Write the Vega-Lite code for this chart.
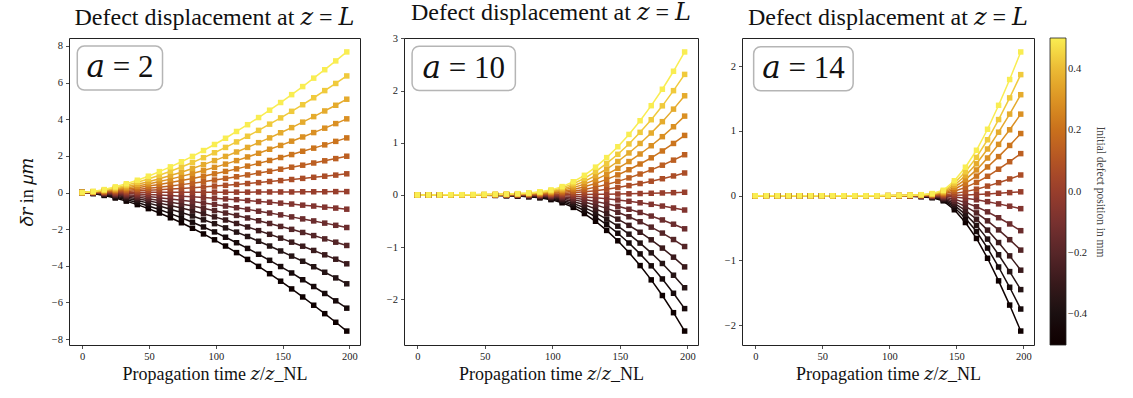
{
"$schema": "https://vega.github.io/schema/vega-lite/v6.json",
"background": "white",
"padding": {"left": 17, "top": 0, "right": 2, "bottom": 2},
"datasets": {
"p1": [
{"r":-0.5,"z":0,"d":0},{"r":-0.5,"z":8.25,"d":-0.06},{"r":-0.5,"z":16.5,"d":-0.16},{"r":-0.5,"z":24.75,"d":-0.3},{"r":-0.5,"z":33,"d":-0.47},{"r":-0.5,"z":41.25,"d":-0.66},{"r":-0.5,"z":49.5,"d":-0.88},{"r":-0.5,"z":57.75,"d":-1.12},{"r":-0.5,"z":66,"d":-1.38},{"r":-0.5,"z":74.25,"d":-1.65},{"r":-0.5,"z":82.5,"d":-1.95},{"r":-0.5,"z":90.75,"d":-2.26},{"r":-0.5,"z":99,"d":-2.58},{"r":-0.5,"z":107.25,"d":-2.92},{"r":-0.5,"z":115.5,"d":-3.28},{"r":-0.5,"z":123.75,"d":-3.65},{"r":-0.5,"z":132,"d":-4.03},{"r":-0.5,"z":140.25,"d":-4.43},{"r":-0.5,"z":148.5,"d":-4.84},{"r":-0.5,"z":156.75,"d":-5.26},{"r":-0.5,"z":165,"d":-5.7},{"r":-0.5,"z":173.25,"d":-6.15},{"r":-0.5,"z":181.5,"d":-6.61},{"r":-0.5,"z":189.75,"d":-7.08},{"r":-0.5,"z":198,"d":-7.56},
{"r":-0.43,"z":0,"d":0},{"r":-0.43,"z":8.25,"d":-0.05},{"r":-0.43,"z":16.5,"d":-0.13},{"r":-0.43,"z":24.75,"d":-0.25},{"r":-0.43,"z":33,"d":-0.39},{"r":-0.43,"z":41.25,"d":-0.55},{"r":-0.43,"z":49.5,"d":-0.74},{"r":-0.43,"z":57.75,"d":-0.93},{"r":-0.43,"z":66,"d":-1.15},{"r":-0.43,"z":74.25,"d":-1.38},{"r":-0.43,"z":82.5,"d":-1.62},{"r":-0.43,"z":90.75,"d":-1.88},{"r":-0.43,"z":99,"d":-2.15},{"r":-0.43,"z":107.25,"d":-2.44},{"r":-0.43,"z":115.5,"d":-2.74},{"r":-0.43,"z":123.75,"d":-3.05},{"r":-0.43,"z":132,"d":-3.37},{"r":-0.43,"z":140.25,"d":-3.7},{"r":-0.43,"z":148.5,"d":-4.04},{"r":-0.43,"z":156.75,"d":-4.39},{"r":-0.43,"z":165,"d":-4.76},{"r":-0.43,"z":173.25,"d":-5.13},{"r":-0.43,"z":181.5,"d":-5.51},{"r":-0.43,"z":189.75,"d":-5.91},{"r":-0.43,"z":198,"d":-6.31},
{"r":-0.36,"z":0,"d":0},{"r":-0.36,"z":8.25,"d":-0.04},{"r":-0.36,"z":16.5,"d":-0.11},{"r":-0.36,"z":24.75,"d":-0.2},{"r":-0.36,"z":33,"d":-0.31},{"r":-0.36,"z":41.25,"d":-0.44},{"r":-0.36,"z":49.5,"d":-0.58},{"r":-0.36,"z":57.75,"d":-0.74},{"r":-0.36,"z":66,"d":-0.91},{"r":-0.36,"z":74.25,"d":-1.09},{"r":-0.36,"z":82.5,"d":-1.28},{"r":-0.36,"z":90.75,"d":-1.49},{"r":-0.36,"z":99,"d":-1.7},{"r":-0.36,"z":107.25,"d":-1.93},{"r":-0.36,"z":115.5,"d":-2.16},{"r":-0.36,"z":123.75,"d":-2.4},{"r":-0.36,"z":132,"d":-2.66},{"r":-0.36,"z":140.25,"d":-2.92},{"r":-0.36,"z":148.5,"d":-3.19},{"r":-0.36,"z":156.75,"d":-3.47},{"r":-0.36,"z":165,"d":-3.75},{"r":-0.36,"z":173.25,"d":-4.05},{"r":-0.36,"z":181.5,"d":-4.35},{"r":-0.36,"z":189.75,"d":-4.66},{"r":-0.36,"z":198,"d":-4.98},
{"r":-0.29,"z":0,"d":0},{"r":-0.29,"z":8.25,"d":-0.03},{"r":-0.29,"z":16.5,"d":-0.08},{"r":-0.29,"z":24.75,"d":-0.15},{"r":-0.29,"z":33,"d":-0.24},{"r":-0.29,"z":41.25,"d":-0.34},{"r":-0.29,"z":49.5,"d":-0.45},{"r":-0.29,"z":57.75,"d":-0.58},{"r":-0.29,"z":66,"d":-0.71},{"r":-0.29,"z":74.25,"d":-0.85},{"r":-0.29,"z":82.5,"d":-1},{"r":-0.29,"z":90.75,"d":-1.16},{"r":-0.29,"z":99,"d":-1.33},{"r":-0.29,"z":107.25,"d":-1.5},{"r":-0.29,"z":115.5,"d":-1.69},{"r":-0.29,"z":123.75,"d":-1.88},{"r":-0.29,"z":132,"d":-2.08},{"r":-0.29,"z":140.25,"d":-2.28},{"r":-0.29,"z":148.5,"d":-2.49},{"r":-0.29,"z":156.75,"d":-2.71},{"r":-0.29,"z":165,"d":-2.93},{"r":-0.29,"z":173.25,"d":-3.16},{"r":-0.29,"z":181.5,"d":-3.4},{"r":-0.29,"z":189.75,"d":-3.64},{"r":-0.29,"z":198,"d":-3.89},
{"r":-0.21,"z":0,"d":0},{"r":-0.21,"z":8.25,"d":-0.02},{"r":-0.21,"z":16.5,"d":-0.06},{"r":-0.21,"z":24.75,"d":-0.12},{"r":-0.21,"z":33,"d":-0.18},{"r":-0.21,"z":41.25,"d":-0.25},{"r":-0.21,"z":49.5,"d":-0.34},{"r":-0.21,"z":57.75,"d":-0.43},{"r":-0.21,"z":66,"d":-0.53},{"r":-0.21,"z":74.25,"d":-0.63},{"r":-0.21,"z":82.5,"d":-0.74},{"r":-0.21,"z":90.75,"d":-0.86},{"r":-0.21,"z":99,"d":-0.99},{"r":-0.21,"z":107.25,"d":-1.12},{"r":-0.21,"z":115.5,"d":-1.25},{"r":-0.21,"z":123.75,"d":-1.39},{"r":-0.21,"z":132,"d":-1.54},{"r":-0.21,"z":140.25,"d":-1.69},{"r":-0.21,"z":148.5,"d":-1.85},{"r":-0.21,"z":156.75,"d":-2.01},{"r":-0.21,"z":165,"d":-2.18},{"r":-0.21,"z":173.25,"d":-2.35},{"r":-0.21,"z":181.5,"d":-2.53},{"r":-0.21,"z":189.75,"d":-2.71},{"r":-0.21,"z":198,"d":-2.89},
{"r":-0.14,"z":0,"d":0},{"r":-0.14,"z":8.25,"d":-0.01},{"r":-0.14,"z":16.5,"d":-0.04},{"r":-0.14,"z":24.75,"d":-0.08},{"r":-0.14,"z":33,"d":-0.12},{"r":-0.14,"z":41.25,"d":-0.17},{"r":-0.14,"z":49.5,"d":-0.22},{"r":-0.14,"z":57.75,"d":-0.28},{"r":-0.14,"z":66,"d":-0.35},{"r":-0.14,"z":74.25,"d":-0.42},{"r":-0.14,"z":82.5,"d":-0.49},{"r":-0.14,"z":90.75,"d":-0.57},{"r":-0.14,"z":99,"d":-0.65},{"r":-0.14,"z":107.25,"d":-0.74},{"r":-0.14,"z":115.5,"d":-0.83},{"r":-0.14,"z":123.75,"d":-0.92},{"r":-0.14,"z":132,"d":-1.02},{"r":-0.14,"z":140.25,"d":-1.12},{"r":-0.14,"z":148.5,"d":-1.22},{"r":-0.14,"z":156.75,"d":-1.33},{"r":-0.14,"z":165,"d":-1.44},{"r":-0.14,"z":173.25,"d":-1.55},{"r":-0.14,"z":181.5,"d":-1.67},{"r":-0.14,"z":189.75,"d":-1.79},{"r":-0.14,"z":198,"d":-1.91},
{"r":-0.07,"z":0,"d":0},{"r":-0.07,"z":8.25,"d":-0.01},{"r":-0.07,"z":16.5,"d":-0.02},{"r":-0.07,"z":24.75,"d":-0.04},{"r":-0.07,"z":33,"d":-0.06},{"r":-0.07,"z":41.25,"d":-0.08},{"r":-0.07,"z":49.5,"d":-0.11},{"r":-0.07,"z":57.75,"d":-0.14},{"r":-0.07,"z":66,"d":-0.17},{"r":-0.07,"z":74.25,"d":-0.2},{"r":-0.07,"z":82.5,"d":-0.23},{"r":-0.07,"z":90.75,"d":-0.27},{"r":-0.07,"z":99,"d":-0.31},{"r":-0.07,"z":107.25,"d":-0.35},{"r":-0.07,"z":115.5,"d":-0.39},{"r":-0.07,"z":123.75,"d":-0.44},{"r":-0.07,"z":132,"d":-0.49},{"r":-0.07,"z":140.25,"d":-0.53},{"r":-0.07,"z":148.5,"d":-0.58},{"r":-0.07,"z":156.75,"d":-0.63},{"r":-0.07,"z":165,"d":-0.69},{"r":-0.07,"z":173.25,"d":-0.74},{"r":-0.07,"z":181.5,"d":-0.8},{"r":-0.07,"z":189.75,"d":-0.85},{"r":-0.07,"z":198,"d":-0.91},
{"r":0,"z":0,"d":0},{"r":0,"z":8.25,"d":0},{"r":0,"z":16.5,"d":0},{"r":0,"z":24.75,"d":0},{"r":0,"z":33,"d":0},{"r":0,"z":41.25,"d":0},{"r":0,"z":49.5,"d":0.01},{"r":0,"z":57.75,"d":0.01},{"r":0,"z":66,"d":0.01},{"r":0,"z":74.25,"d":0.01},{"r":0,"z":82.5,"d":0.01},{"r":0,"z":90.75,"d":0.01},{"r":0,"z":99,"d":0.02},{"r":0,"z":107.25,"d":0.02},{"r":0,"z":115.5,"d":0.02},{"r":0,"z":123.75,"d":0.02},{"r":0,"z":132,"d":0.03},{"r":0,"z":140.25,"d":0.03},{"r":0,"z":148.5,"d":0.03},{"r":0,"z":156.75,"d":0.03},{"r":0,"z":165,"d":0.04},{"r":0,"z":173.25,"d":0.04},{"r":0,"z":181.5,"d":0.04},{"r":0,"z":189.75,"d":0.05},{"r":0,"z":198,"d":0.05},
{"r":0.07,"z":0,"d":0},{"r":0.07,"z":8.25,"d":0.01},{"r":0.07,"z":16.5,"d":0.02},{"r":0.07,"z":24.75,"d":0.04},{"r":0.07,"z":33,"d":0.06},{"r":0.07,"z":41.25,"d":0.09},{"r":0.07,"z":49.5,"d":0.12},{"r":0.07,"z":57.75,"d":0.15},{"r":0.07,"z":66,"d":0.19},{"r":0.07,"z":74.25,"d":0.22},{"r":0.07,"z":82.5,"d":0.26},{"r":0.07,"z":90.75,"d":0.3},{"r":0.07,"z":99,"d":0.35},{"r":0.07,"z":107.25,"d":0.39},{"r":0.07,"z":115.5,"d":0.44},{"r":0.07,"z":123.75,"d":0.49},{"r":0.07,"z":132,"d":0.54},{"r":0.07,"z":140.25,"d":0.6},{"r":0.07,"z":148.5,"d":0.65},{"r":0.07,"z":156.75,"d":0.71},{"r":0.07,"z":165,"d":0.77},{"r":0.07,"z":173.25,"d":0.83},{"r":0.07,"z":181.5,"d":0.89},{"r":0.07,"z":189.75,"d":0.95},{"r":0.07,"z":198,"d":1.02},
{"r":0.14,"z":0,"d":0},{"r":0.14,"z":8.25,"d":0.01},{"r":0.14,"z":16.5,"d":0.04},{"r":0.14,"z":24.75,"d":0.08},{"r":0.14,"z":33,"d":0.12},{"r":0.14,"z":41.25,"d":0.17},{"r":0.14,"z":49.5,"d":0.23},{"r":0.14,"z":57.75,"d":0.29},{"r":0.14,"z":66,"d":0.36},{"r":0.14,"z":74.25,"d":0.43},{"r":0.14,"z":82.5,"d":0.51},{"r":0.14,"z":90.75,"d":0.59},{"r":0.14,"z":99,"d":0.68},{"r":0.14,"z":107.25,"d":0.77},{"r":0.14,"z":115.5,"d":0.86},{"r":0.14,"z":123.75,"d":0.96},{"r":0.14,"z":132,"d":1.06},{"r":0.14,"z":140.25,"d":1.16},{"r":0.14,"z":148.5,"d":1.27},{"r":0.14,"z":156.75,"d":1.38},{"r":0.14,"z":165,"d":1.49},{"r":0.14,"z":173.25,"d":1.61},{"r":0.14,"z":181.5,"d":1.73},{"r":0.14,"z":189.75,"d":1.85},{"r":0.14,"z":198,"d":1.98},
{"r":0.21,"z":0,"d":0},{"r":0.21,"z":8.25,"d":0.02},{"r":0.21,"z":16.5,"d":0.06},{"r":0.21,"z":24.75,"d":0.12},{"r":0.21,"z":33,"d":0.19},{"r":0.21,"z":41.25,"d":0.26},{"r":0.21,"z":49.5,"d":0.35},{"r":0.21,"z":57.75,"d":0.44},{"r":0.21,"z":66,"d":0.54},{"r":0.21,"z":74.25,"d":0.65},{"r":0.21,"z":82.5,"d":0.77},{"r":0.21,"z":90.75,"d":0.89},{"r":0.21,"z":99,"d":1.02},{"r":0.21,"z":107.25,"d":1.15},{"r":0.21,"z":115.5,"d":1.29},{"r":0.21,"z":123.75,"d":1.44},{"r":0.21,"z":132,"d":1.59},{"r":0.21,"z":140.25,"d":1.75},{"r":0.21,"z":148.5,"d":1.91},{"r":0.21,"z":156.75,"d":2.07},{"r":0.21,"z":165,"d":2.25},{"r":0.21,"z":173.25,"d":2.42},{"r":0.21,"z":181.5,"d":2.6},{"r":0.21,"z":189.75,"d":2.79},{"r":0.21,"z":198,"d":2.98},
{"r":0.29,"z":0,"d":0},{"r":0.29,"z":8.25,"d":0.03},{"r":0.29,"z":16.5,"d":0.09},{"r":0.29,"z":24.75,"d":0.16},{"r":0.29,"z":33,"d":0.25},{"r":0.29,"z":41.25,"d":0.35},{"r":0.29,"z":49.5,"d":0.47},{"r":0.29,"z":57.75,"d":0.6},{"r":0.29,"z":66,"d":0.73},{"r":0.29,"z":74.25,"d":0.88},{"r":0.29,"z":82.5,"d":1.04},{"r":0.29,"z":90.75,"d":1.2},{"r":0.29,"z":99,"d":1.37},{"r":0.29,"z":107.25,"d":1.55},{"r":0.29,"z":115.5,"d":1.74},{"r":0.29,"z":123.75,"d":1.94},{"r":0.29,"z":132,"d":2.14},{"r":0.29,"z":140.25,"d":2.36},{"r":0.29,"z":148.5,"d":2.57},{"r":0.29,"z":156.75,"d":2.8},{"r":0.29,"z":165,"d":3.03},{"r":0.29,"z":173.25,"d":3.27},{"r":0.29,"z":181.5,"d":3.51},{"r":0.29,"z":189.75,"d":3.76},{"r":0.29,"z":198,"d":4.02},
{"r":0.36,"z":0,"d":0},{"r":0.36,"z":8.25,"d":0.04},{"r":0.36,"z":16.5,"d":0.11},{"r":0.36,"z":24.75,"d":0.2},{"r":0.36,"z":33,"d":0.32},{"r":0.36,"z":41.25,"d":0.45},{"r":0.36,"z":49.5,"d":0.59},{"r":0.36,"z":57.75,"d":0.75},{"r":0.36,"z":66,"d":0.93},{"r":0.36,"z":74.25,"d":1.11},{"r":0.36,"z":82.5,"d":1.31},{"r":0.36,"z":90.75,"d":1.52},{"r":0.36,"z":99,"d":1.74},{"r":0.36,"z":107.25,"d":1.97},{"r":0.36,"z":115.5,"d":2.21},{"r":0.36,"z":123.75,"d":2.46},{"r":0.36,"z":132,"d":2.72},{"r":0.36,"z":140.25,"d":2.98},{"r":0.36,"z":148.5,"d":3.26},{"r":0.36,"z":156.75,"d":3.54},{"r":0.36,"z":165,"d":3.84},{"r":0.36,"z":173.25,"d":4.14},{"r":0.36,"z":181.5,"d":4.45},{"r":0.36,"z":189.75,"d":4.76},{"r":0.36,"z":198,"d":5.09},
{"r":0.43,"z":0,"d":0},{"r":0.43,"z":8.25,"d":0.05},{"r":0.43,"z":16.5,"d":0.13},{"r":0.43,"z":24.75,"d":0.25},{"r":0.43,"z":33,"d":0.4},{"r":0.43,"z":41.25,"d":0.56},{"r":0.43,"z":49.5,"d":0.74},{"r":0.43,"z":57.75,"d":0.94},{"r":0.43,"z":66,"d":1.16},{"r":0.43,"z":74.25,"d":1.39},{"r":0.43,"z":82.5,"d":1.64},{"r":0.43,"z":90.75,"d":1.9},{"r":0.43,"z":99,"d":2.17},{"r":0.43,"z":107.25,"d":2.46},{"r":0.43,"z":115.5,"d":2.76},{"r":0.43,"z":123.75,"d":3.07},{"r":0.43,"z":132,"d":3.39},{"r":0.43,"z":140.25,"d":3.73},{"r":0.43,"z":148.5,"d":4.07},{"r":0.43,"z":156.75,"d":4.43},{"r":0.43,"z":165,"d":4.79},{"r":0.43,"z":173.25,"d":5.17},{"r":0.43,"z":181.5,"d":5.56},{"r":0.43,"z":189.75,"d":5.95},{"r":0.43,"z":198,"d":6.36},
{"r":0.5,"z":0,"d":0},{"r":0.5,"z":8.25,"d":0.06},{"r":0.5,"z":16.5,"d":0.16},{"r":0.5,"z":24.75,"d":0.31},{"r":0.5,"z":33,"d":0.48},{"r":0.5,"z":41.25,"d":0.67},{"r":0.5,"z":49.5,"d":0.89},{"r":0.5,"z":57.75,"d":1.14},{"r":0.5,"z":66,"d":1.4},{"r":0.5,"z":74.25,"d":1.68},{"r":0.5,"z":82.5,"d":1.97},{"r":0.5,"z":90.75,"d":2.29},{"r":0.5,"z":99,"d":2.62},{"r":0.5,"z":107.25,"d":2.96},{"r":0.5,"z":115.5,"d":3.33},{"r":0.5,"z":123.75,"d":3.7},{"r":0.5,"z":132,"d":4.09},{"r":0.5,"z":140.25,"d":4.49},{"r":0.5,"z":148.5,"d":4.91},{"r":0.5,"z":156.75,"d":5.34},{"r":0.5,"z":165,"d":5.78},{"r":0.5,"z":173.25,"d":6.24},{"r":0.5,"z":181.5,"d":6.7},{"r":0.5,"z":189.75,"d":7.18},{"r":0.5,"z":198,"d":7.67}
],
"p2": [
{"r":-0.5,"z":0,"d":0},{"r":-0.5,"z":8.25,"d":0},{"r":-0.5,"z":16.5,"d":-0.001},{"r":-0.5,"z":24.75,"d":-0.003},{"r":-0.5,"z":33,"d":-0.004},{"r":-0.5,"z":41.25,"d":-0.005},{"r":-0.5,"z":49.5,"d":-0.008},{"r":-0.5,"z":57.75,"d":-0.01},{"r":-0.5,"z":66,"d":-0.016},{"r":-0.5,"z":74.25,"d":-0.023},{"r":-0.5,"z":82.5,"d":-0.037},{"r":-0.5,"z":90.75,"d":-0.057},{"r":-0.5,"z":99,"d":-0.091},{"r":-0.5,"z":107.25,"d":-0.151},{"r":-0.5,"z":115.5,"d":-0.24},{"r":-0.5,"z":123.75,"d":-0.358},{"r":-0.5,"z":132,"d":-0.506},{"r":-0.5,"z":140.25,"d":-0.681},{"r":-0.5,"z":148.5,"d":-0.88},{"r":-0.5,"z":156.75,"d":-1.104},{"r":-0.5,"z":165,"d":-1.355},{"r":-0.5,"z":173.25,"d":-1.629},{"r":-0.5,"z":181.5,"d":-1.929},{"r":-0.5,"z":189.75,"d":-2.258},{"r":-0.5,"z":198,"d":-2.61},
{"r":-0.43,"z":0,"d":0},{"r":-0.43,"z":8.25,"d":0},{"r":-0.43,"z":16.5,"d":-0.001},{"r":-0.43,"z":24.75,"d":-0.002},{"r":-0.43,"z":33,"d":-0.003},{"r":-0.43,"z":41.25,"d":-0.004},{"r":-0.43,"z":49.5,"d":-0.007},{"r":-0.43,"z":57.75,"d":-0.009},{"r":-0.43,"z":66,"d":-0.013},{"r":-0.43,"z":74.25,"d":-0.02},{"r":-0.43,"z":82.5,"d":-0.031},{"r":-0.43,"z":90.75,"d":-0.048},{"r":-0.43,"z":99,"d":-0.076},{"r":-0.43,"z":107.25,"d":-0.126},{"r":-0.43,"z":115.5,"d":-0.201},{"r":-0.43,"z":123.75,"d":-0.299},{"r":-0.43,"z":132,"d":-0.423},{"r":-0.43,"z":140.25,"d":-0.569},{"r":-0.43,"z":148.5,"d":-0.735},{"r":-0.43,"z":156.75,"d":-0.922},{"r":-0.43,"z":165,"d":-1.131},{"r":-0.43,"z":173.25,"d":-1.36},{"r":-0.43,"z":181.5,"d":-1.611},{"r":-0.43,"z":189.75,"d":-1.886},{"r":-0.43,"z":198,"d":-2.18},
{"r":-0.36,"z":0,"d":0},{"r":-0.36,"z":8.25,"d":0},{"r":-0.36,"z":16.5,"d":-0.001},{"r":-0.36,"z":24.75,"d":-0.002},{"r":-0.36,"z":33,"d":-0.003},{"r":-0.36,"z":41.25,"d":-0.004},{"r":-0.36,"z":49.5,"d":-0.005},{"r":-0.36,"z":57.75,"d":-0.007},{"r":-0.36,"z":66,"d":-0.011},{"r":-0.36,"z":74.25,"d":-0.016},{"r":-0.36,"z":82.5,"d":-0.025},{"r":-0.36,"z":90.75,"d":-0.039},{"r":-0.36,"z":99,"d":-0.062},{"r":-0.36,"z":107.25,"d":-0.103},{"r":-0.36,"z":115.5,"d":-0.164},{"r":-0.36,"z":123.75,"d":-0.244},{"r":-0.36,"z":132,"d":-0.345},{"r":-0.36,"z":140.25,"d":-0.465},{"r":-0.36,"z":148.5,"d":-0.6},{"r":-0.36,"z":156.75,"d":-0.753},{"r":-0.36,"z":165,"d":-0.924},{"r":-0.36,"z":173.25,"d":-1.111},{"r":-0.36,"z":181.5,"d":-1.315},{"r":-0.36,"z":189.75,"d":-1.54},{"r":-0.36,"z":198,"d":-1.78},
{"r":-0.29,"z":0,"d":0},{"r":-0.29,"z":8.25,"d":0},{"r":-0.29,"z":16.5,"d":-0.001},{"r":-0.29,"z":24.75,"d":-0.001},{"r":-0.29,"z":33,"d":-0.002},{"r":-0.29,"z":41.25,"d":-0.003},{"r":-0.29,"z":49.5,"d":-0.004},{"r":-0.29,"z":57.75,"d":-0.006},{"r":-0.29,"z":66,"d":-0.008},{"r":-0.29,"z":74.25,"d":-0.012},{"r":-0.29,"z":82.5,"d":-0.019},{"r":-0.29,"z":90.75,"d":-0.03},{"r":-0.29,"z":99,"d":-0.048},{"r":-0.29,"z":107.25,"d":-0.08},{"r":-0.29,"z":115.5,"d":-0.127},{"r":-0.29,"z":123.75,"d":-0.189},{"r":-0.29,"z":132,"d":-0.268},{"r":-0.29,"z":140.25,"d":-0.36},{"r":-0.29,"z":148.5,"d":-0.465},{"r":-0.29,"z":156.75,"d":-0.584},{"r":-0.29,"z":165,"d":-0.716},{"r":-0.29,"z":173.25,"d":-0.861},{"r":-0.29,"z":181.5,"d":-1.02},{"r":-0.29,"z":189.75,"d":-1.194},{"r":-0.29,"z":198,"d":-1.38},
{"r":-0.21,"z":0,"d":0},{"r":-0.21,"z":8.25,"d":0},{"r":-0.21,"z":16.5,"d":0},{"r":-0.21,"z":24.75,"d":-0.001},{"r":-0.21,"z":33,"d":-0.001},{"r":-0.21,"z":41.25,"d":-0.002},{"r":-0.21,"z":49.5,"d":-0.003},{"r":-0.21,"z":57.75,"d":-0.004},{"r":-0.21,"z":66,"d":-0.006},{"r":-0.21,"z":74.25,"d":-0.009},{"r":-0.21,"z":82.5,"d":-0.014},{"r":-0.21,"z":90.75,"d":-0.022},{"r":-0.21,"z":99,"d":-0.035},{"r":-0.21,"z":107.25,"d":-0.057},{"r":-0.21,"z":115.5,"d":-0.091},{"r":-0.21,"z":123.75,"d":-0.136},{"r":-0.21,"z":132,"d":-0.192},{"r":-0.21,"z":140.25,"d":-0.258},{"r":-0.21,"z":148.5,"d":-0.334},{"r":-0.21,"z":156.75,"d":-0.419},{"r":-0.21,"z":165,"d":-0.514},{"r":-0.21,"z":173.25,"d":-0.618},{"r":-0.21,"z":181.5,"d":-0.732},{"r":-0.21,"z":189.75,"d":-0.856},{"r":-0.21,"z":198,"d":-0.99},
{"r":-0.14,"z":0,"d":0},{"r":-0.14,"z":8.25,"d":0},{"r":-0.14,"z":16.5,"d":0},{"r":-0.14,"z":24.75,"d":-0.001},{"r":-0.14,"z":33,"d":-0.001},{"r":-0.14,"z":41.25,"d":-0.001},{"r":-0.14,"z":49.5,"d":-0.002},{"r":-0.14,"z":57.75,"d":-0.003},{"r":-0.14,"z":66,"d":-0.004},{"r":-0.14,"z":74.25,"d":-0.006},{"r":-0.14,"z":82.5,"d":-0.009},{"r":-0.14,"z":90.75,"d":-0.014},{"r":-0.14,"z":99,"d":-0.023},{"r":-0.14,"z":107.25,"d":-0.038},{"r":-0.14,"z":115.5,"d":-0.06},{"r":-0.14,"z":123.75,"d":-0.089},{"r":-0.14,"z":132,"d":-0.126},{"r":-0.14,"z":140.25,"d":-0.17},{"r":-0.14,"z":148.5,"d":-0.219},{"r":-0.14,"z":156.75,"d":-0.275},{"r":-0.14,"z":165,"d":-0.337},{"r":-0.14,"z":173.25,"d":-0.406},{"r":-0.14,"z":181.5,"d":-0.48},{"r":-0.14,"z":189.75,"d":-0.562},{"r":-0.14,"z":198,"d":-0.65},
{"r":-0.07,"z":0,"d":0},{"r":-0.07,"z":8.25,"d":0},{"r":-0.07,"z":16.5,"d":0},{"r":-0.07,"z":24.75,"d":0},{"r":-0.07,"z":33,"d":0},{"r":-0.07,"z":41.25,"d":-0.001},{"r":-0.07,"z":49.5,"d":-0.001},{"r":-0.07,"z":57.75,"d":-0.001},{"r":-0.07,"z":66,"d":-0.002},{"r":-0.07,"z":74.25,"d":-0.003},{"r":-0.07,"z":82.5,"d":-0.004},{"r":-0.07,"z":90.75,"d":-0.006},{"r":-0.07,"z":99,"d":-0.01},{"r":-0.07,"z":107.25,"d":-0.017},{"r":-0.07,"z":115.5,"d":-0.027},{"r":-0.07,"z":123.75,"d":-0.04},{"r":-0.07,"z":132,"d":-0.056},{"r":-0.07,"z":140.25,"d":-0.076},{"r":-0.07,"z":148.5,"d":-0.098},{"r":-0.07,"z":156.75,"d":-0.123},{"r":-0.07,"z":165,"d":-0.151},{"r":-0.07,"z":173.25,"d":-0.181},{"r":-0.07,"z":181.5,"d":-0.214},{"r":-0.07,"z":189.75,"d":-0.251},{"r":-0.07,"z":198,"d":-0.29},
{"r":0,"z":0,"d":0},{"r":0,"z":8.25,"d":0},{"r":0,"z":16.5,"d":0},{"r":0,"z":24.75,"d":0},{"r":0,"z":33,"d":0},{"r":0,"z":41.25,"d":0},{"r":0,"z":49.5,"d":0},{"r":0,"z":57.75,"d":0},{"r":0,"z":66,"d":0},{"r":0,"z":74.25,"d":0},{"r":0,"z":82.5,"d":0.001},{"r":0,"z":90.75,"d":0.001},{"r":0,"z":99,"d":0.002},{"r":0,"z":107.25,"d":0.003},{"r":0,"z":115.5,"d":0.005},{"r":0,"z":123.75,"d":0.007},{"r":0,"z":132,"d":0.01},{"r":0,"z":140.25,"d":0.013},{"r":0,"z":148.5,"d":0.017},{"r":0,"z":156.75,"d":0.021},{"r":0,"z":165,"d":0.026},{"r":0,"z":173.25,"d":0.031},{"r":0,"z":181.5,"d":0.037},{"r":0,"z":189.75,"d":0.043},{"r":0,"z":198,"d":0.05},
{"r":0.07,"z":0,"d":0},{"r":0.07,"z":8.25,"d":0},{"r":0.07,"z":16.5,"d":0},{"r":0.07,"z":24.75,"d":0},{"r":0.07,"z":33,"d":0.001},{"r":0.07,"z":41.25,"d":0.001},{"r":0.07,"z":49.5,"d":0.001},{"r":0.07,"z":57.75,"d":0.002},{"r":0.07,"z":66,"d":0.003},{"r":0.07,"z":74.25,"d":0.004},{"r":0.07,"z":82.5,"d":0.006},{"r":0.07,"z":90.75,"d":0.009},{"r":0.07,"z":99,"d":0.015},{"r":0.07,"z":107.25,"d":0.024},{"r":0.07,"z":115.5,"d":0.039},{"r":0.07,"z":123.75,"d":0.058},{"r":0.07,"z":132,"d":0.081},{"r":0.07,"z":140.25,"d":0.11},{"r":0.07,"z":148.5,"d":0.142},{"r":0.07,"z":156.75,"d":0.178},{"r":0.07,"z":165,"d":0.218},{"r":0.07,"z":173.25,"d":0.262},{"r":0.07,"z":181.5,"d":0.31},{"r":0.07,"z":189.75,"d":0.363},{"r":0.07,"z":198,"d":0.42},
{"r":0.14,"z":0,"d":0},{"r":0.14,"z":8.25,"d":0},{"r":0.14,"z":16.5,"d":0},{"r":0.14,"z":24.75,"d":0.001},{"r":0.14,"z":33,"d":0.001},{"r":0.14,"z":41.25,"d":0.002},{"r":0.14,"z":49.5,"d":0.002},{"r":0.14,"z":57.75,"d":0.003},{"r":0.14,"z":66,"d":0.005},{"r":0.14,"z":74.25,"d":0.007},{"r":0.14,"z":82.5,"d":0.011},{"r":0.14,"z":90.75,"d":0.017},{"r":0.14,"z":99,"d":0.027},{"r":0.14,"z":107.25,"d":0.045},{"r":0.14,"z":115.5,"d":0.071},{"r":0.14,"z":123.75,"d":0.105},{"r":0.14,"z":132,"d":0.149},{"r":0.14,"z":140.25,"d":0.201},{"r":0.14,"z":148.5,"d":0.259},{"r":0.14,"z":156.75,"d":0.326},{"r":0.14,"z":165,"d":0.4},{"r":0.14,"z":173.25,"d":0.48},{"r":0.14,"z":181.5,"d":0.569},{"r":0.14,"z":189.75,"d":0.666},{"r":0.14,"z":198,"d":0.77},
{"r":0.21,"z":0,"d":0},{"r":0.21,"z":8.25,"d":0},{"r":0.21,"z":16.5,"d":0.001},{"r":0.21,"z":24.75,"d":0.001},{"r":0.21,"z":33,"d":0.002},{"r":0.21,"z":41.25,"d":0.002},{"r":0.21,"z":49.5,"d":0.003},{"r":0.21,"z":57.75,"d":0.005},{"r":0.21,"z":66,"d":0.007},{"r":0.21,"z":74.25,"d":0.01},{"r":0.21,"z":82.5,"d":0.016},{"r":0.21,"z":90.75,"d":0.025},{"r":0.21,"z":99,"d":0.04},{"r":0.21,"z":107.25,"d":0.066},{"r":0.21,"z":115.5,"d":0.105},{"r":0.21,"z":123.75,"d":0.156},{"r":0.21,"z":132,"d":0.221},{"r":0.21,"z":140.25,"d":0.298},{"r":0.21,"z":148.5,"d":0.384},{"r":0.21,"z":156.75,"d":0.482},{"r":0.21,"z":165,"d":0.592},{"r":0.21,"z":173.25,"d":0.711},{"r":0.21,"z":181.5,"d":0.842},{"r":0.21,"z":189.75,"d":0.986},{"r":0.21,"z":198,"d":1.14},
{"r":0.29,"z":0,"d":0},{"r":0.29,"z":8.25,"d":0},{"r":0.29,"z":16.5,"d":0.001},{"r":0.29,"z":24.75,"d":0.002},{"r":0.29,"z":33,"d":0.002},{"r":0.29,"z":41.25,"d":0.003},{"r":0.29,"z":49.5,"d":0.005},{"r":0.29,"z":57.75,"d":0.006},{"r":0.29,"z":66,"d":0.009},{"r":0.29,"z":74.25,"d":0.014},{"r":0.29,"z":82.5,"d":0.021},{"r":0.29,"z":90.75,"d":0.033},{"r":0.29,"z":99,"d":0.053},{"r":0.29,"z":107.25,"d":0.088},{"r":0.29,"z":115.5,"d":0.139},{"r":0.29,"z":123.75,"d":0.207},{"r":0.29,"z":132,"d":0.293},{"r":0.29,"z":140.25,"d":0.394},{"r":0.29,"z":148.5,"d":0.509},{"r":0.29,"z":156.75,"d":0.639},{"r":0.29,"z":165,"d":0.784},{"r":0.29,"z":173.25,"d":0.942},{"r":0.29,"z":181.5,"d":1.116},{"r":0.29,"z":189.75,"d":1.306},{"r":0.29,"z":198,"d":1.51},
{"r":0.36,"z":0,"d":0},{"r":0.36,"z":8.25,"d":0},{"r":0.36,"z":16.5,"d":0.001},{"r":0.36,"z":24.75,"d":0.002},{"r":0.36,"z":33,"d":0.003},{"r":0.36,"z":41.25,"d":0.004},{"r":0.36,"z":49.5,"d":0.006},{"r":0.36,"z":57.75,"d":0.008},{"r":0.36,"z":66,"d":0.011},{"r":0.36,"z":74.25,"d":0.017},{"r":0.36,"z":82.5,"d":0.027},{"r":0.36,"z":90.75,"d":0.042},{"r":0.36,"z":99,"d":0.067},{"r":0.36,"z":107.25,"d":0.11},{"r":0.36,"z":115.5,"d":0.175},{"r":0.36,"z":123.75,"d":0.26},{"r":0.36,"z":132,"d":0.369},{"r":0.36,"z":140.25,"d":0.496},{"r":0.36,"z":148.5,"d":0.64},{"r":0.36,"z":156.75,"d":0.804},{"r":0.36,"z":165,"d":0.986},{"r":0.36,"z":173.25,"d":1.186},{"r":0.36,"z":181.5,"d":1.404},{"r":0.36,"z":189.75,"d":1.644},{"r":0.36,"z":198,"d":1.9},
{"r":0.43,"z":0,"d":0},{"r":0.43,"z":8.25,"d":0},{"r":0.43,"z":16.5,"d":0.001},{"r":0.43,"z":24.75,"d":0.002},{"r":0.43,"z":33,"d":0.003},{"r":0.43,"z":41.25,"d":0.005},{"r":0.43,"z":49.5,"d":0.007},{"r":0.43,"z":57.75,"d":0.009},{"r":0.43,"z":66,"d":0.014},{"r":0.43,"z":74.25,"d":0.021},{"r":0.43,"z":82.5,"d":0.032},{"r":0.43,"z":90.75,"d":0.051},{"r":0.43,"z":99,"d":0.081},{"r":0.43,"z":107.25,"d":0.134},{"r":0.43,"z":115.5,"d":0.213},{"r":0.43,"z":123.75,"d":0.316},{"r":0.43,"z":132,"d":0.448},{"r":0.43,"z":140.25,"d":0.603},{"r":0.43,"z":148.5,"d":0.778},{"r":0.43,"z":156.75,"d":0.977},{"r":0.43,"z":165,"d":1.199},{"r":0.43,"z":173.25,"d":1.441},{"r":0.43,"z":181.5,"d":1.707},{"r":0.43,"z":189.75,"d":1.998},{"r":0.43,"z":198,"d":2.31},
{"r":0.5,"z":0,"d":0},{"r":0.5,"z":8.25,"d":0},{"r":0.5,"z":16.5,"d":0.001},{"r":0.5,"z":24.75,"d":0.003},{"r":0.5,"z":33,"d":0.004},{"r":0.5,"z":41.25,"d":0.005},{"r":0.5,"z":49.5,"d":0.008},{"r":0.5,"z":57.75,"d":0.011},{"r":0.5,"z":66,"d":0.016},{"r":0.5,"z":74.25,"d":0.025},{"r":0.5,"z":82.5,"d":0.038},{"r":0.5,"z":90.75,"d":0.06},{"r":0.5,"z":99,"d":0.096},{"r":0.5,"z":107.25,"d":0.159},{"r":0.5,"z":115.5,"d":0.252},{"r":0.5,"z":123.75,"d":0.375},{"r":0.5,"z":132,"d":0.532},{"r":0.5,"z":140.25,"d":0.715},{"r":0.5,"z":148.5,"d":0.923},{"r":0.5,"z":156.75,"d":1.159},{"r":0.5,"z":165,"d":1.422},{"r":0.5,"z":173.25,"d":1.71},{"r":0.5,"z":181.5,"d":2.025},{"r":0.5,"z":189.75,"d":2.37},{"r":0.5,"z":198,"d":2.74}
],
"p3": [
{"r":-0.5,"z":0,"d":0},{"r":-0.5,"z":8.25,"d":0},{"r":-0.5,"z":16.5,"d":0},{"r":-0.5,"z":24.75,"d":0},{"r":-0.5,"z":33,"d":0},{"r":-0.5,"z":41.25,"d":0},{"r":-0.5,"z":49.5,"d":0},{"r":-0.5,"z":57.75,"d":0},{"r":-0.5,"z":66,"d":0},{"r":-0.5,"z":74.25,"d":0},{"r":-0.5,"z":82.5,"d":0},{"r":-0.5,"z":90.75,"d":0},{"r":-0.5,"z":99,"d":-0.002},{"r":-0.5,"z":107.25,"d":-0.004},{"r":-0.5,"z":115.5,"d":-0.008},{"r":-0.5,"z":123.75,"d":-0.015},{"r":-0.5,"z":132,"d":-0.031},{"r":-0.5,"z":140.25,"d":-0.079},{"r":-0.5,"z":148.5,"d":-0.217},{"r":-0.5,"z":156.75,"d":-0.414},{"r":-0.5,"z":165,"d":-0.66},{"r":-0.5,"z":173.25,"d":-0.966},{"r":-0.5,"z":181.5,"d":-1.315},{"r":-0.5,"z":189.75,"d":-1.689},{"r":-0.5,"z":198,"d":-2.09},
{"r":-0.43,"z":0,"d":0},{"r":-0.43,"z":8.25,"d":0},{"r":-0.43,"z":16.5,"d":0},{"r":-0.43,"z":24.75,"d":0},{"r":-0.43,"z":33,"d":0},{"r":-0.43,"z":41.25,"d":0},{"r":-0.43,"z":49.5,"d":0},{"r":-0.43,"z":57.75,"d":0},{"r":-0.43,"z":66,"d":0},{"r":-0.43,"z":74.25,"d":0},{"r":-0.43,"z":82.5,"d":0},{"r":-0.43,"z":90.75,"d":0},{"r":-0.43,"z":99,"d":-0.002},{"r":-0.43,"z":107.25,"d":-0.004},{"r":-0.43,"z":115.5,"d":-0.007},{"r":-0.43,"z":123.75,"d":-0.012},{"r":-0.43,"z":132,"d":-0.026},{"r":-0.43,"z":140.25,"d":-0.067},{"r":-0.43,"z":148.5,"d":-0.182},{"r":-0.43,"z":156.75,"d":-0.347},{"r":-0.43,"z":165,"d":-0.553},{"r":-0.43,"z":173.25,"d":-0.809},{"r":-0.43,"z":181.5,"d":-1.101},{"r":-0.43,"z":189.75,"d":-1.414},{"r":-0.43,"z":198,"d":-1.75},
{"r":-0.36,"z":0,"d":0},{"r":-0.36,"z":8.25,"d":0},{"r":-0.36,"z":16.5,"d":0},{"r":-0.36,"z":24.75,"d":0},{"r":-0.36,"z":33,"d":0},{"r":-0.36,"z":41.25,"d":0},{"r":-0.36,"z":49.5,"d":0},{"r":-0.36,"z":57.75,"d":0},{"r":-0.36,"z":66,"d":0},{"r":-0.36,"z":74.25,"d":0},{"r":-0.36,"z":82.5,"d":0},{"r":-0.36,"z":90.75,"d":0},{"r":-0.36,"z":99,"d":-0.001},{"r":-0.36,"z":107.25,"d":-0.003},{"r":-0.36,"z":115.5,"d":-0.006},{"r":-0.36,"z":123.75,"d":-0.01},{"r":-0.36,"z":132,"d":-0.022},{"r":-0.36,"z":140.25,"d":-0.055},{"r":-0.36,"z":148.5,"d":-0.151},{"r":-0.36,"z":156.75,"d":-0.287},{"r":-0.36,"z":165,"d":-0.458},{"r":-0.36,"z":173.25,"d":-0.67},{"r":-0.36,"z":181.5,"d":-0.912},{"r":-0.36,"z":189.75,"d":-1.172},{"r":-0.36,"z":198,"d":-1.45},
{"r":-0.29,"z":0,"d":0},{"r":-0.29,"z":8.25,"d":0},{"r":-0.29,"z":16.5,"d":0},{"r":-0.29,"z":24.75,"d":0},{"r":-0.29,"z":33,"d":0},{"r":-0.29,"z":41.25,"d":0},{"r":-0.29,"z":49.5,"d":0},{"r":-0.29,"z":57.75,"d":0},{"r":-0.29,"z":66,"d":0},{"r":-0.29,"z":74.25,"d":0},{"r":-0.29,"z":82.5,"d":0},{"r":-0.29,"z":90.75,"d":0},{"r":-0.29,"z":99,"d":-0.001},{"r":-0.29,"z":107.25,"d":-0.002},{"r":-0.29,"z":115.5,"d":-0.005},{"r":-0.29,"z":123.75,"d":-0.008},{"r":-0.29,"z":132,"d":-0.017},{"r":-0.29,"z":140.25,"d":-0.044},{"r":-0.29,"z":148.5,"d":-0.12},{"r":-0.29,"z":156.75,"d":-0.228},{"r":-0.29,"z":165,"d":-0.363},{"r":-0.29,"z":173.25,"d":-0.531},{"r":-0.29,"z":181.5,"d":-0.723},{"r":-0.29,"z":189.75,"d":-0.929},{"r":-0.29,"z":198,"d":-1.15},
{"r":-0.21,"z":0,"d":0},{"r":-0.21,"z":8.25,"d":0},{"r":-0.21,"z":16.5,"d":0},{"r":-0.21,"z":24.75,"d":0},{"r":-0.21,"z":33,"d":0},{"r":-0.21,"z":41.25,"d":0},{"r":-0.21,"z":49.5,"d":0},{"r":-0.21,"z":57.75,"d":0},{"r":-0.21,"z":66,"d":0},{"r":-0.21,"z":74.25,"d":0},{"r":-0.21,"z":82.5,"d":0},{"r":-0.21,"z":90.75,"d":0},{"r":-0.21,"z":99,"d":-0.001},{"r":-0.21,"z":107.25,"d":-0.002},{"r":-0.21,"z":115.5,"d":-0.003},{"r":-0.21,"z":123.75,"d":-0.006},{"r":-0.21,"z":132,"d":-0.013},{"r":-0.21,"z":140.25,"d":-0.032},{"r":-0.21,"z":148.5,"d":-0.087},{"r":-0.21,"z":156.75,"d":-0.166},{"r":-0.21,"z":165,"d":-0.265},{"r":-0.21,"z":173.25,"d":-0.388},{"r":-0.21,"z":181.5,"d":-0.528},{"r":-0.21,"z":189.75,"d":-0.679},{"r":-0.21,"z":198,"d":-0.84},
{"r":-0.14,"z":0,"d":0},{"r":-0.14,"z":8.25,"d":0},{"r":-0.14,"z":16.5,"d":0},{"r":-0.14,"z":24.75,"d":0},{"r":-0.14,"z":33,"d":0},{"r":-0.14,"z":41.25,"d":0},{"r":-0.14,"z":49.5,"d":0},{"r":-0.14,"z":57.75,"d":0},{"r":-0.14,"z":66,"d":0},{"r":-0.14,"z":74.25,"d":0},{"r":-0.14,"z":82.5,"d":0},{"r":-0.14,"z":90.75,"d":0},{"r":-0.14,"z":99,"d":-0.001},{"r":-0.14,"z":107.25,"d":-0.001},{"r":-0.14,"z":115.5,"d":-0.002},{"r":-0.14,"z":123.75,"d":-0.004},{"r":-0.14,"z":132,"d":-0.008},{"r":-0.14,"z":140.25,"d":-0.021},{"r":-0.14,"z":148.5,"d":-0.056},{"r":-0.14,"z":156.75,"d":-0.107},{"r":-0.14,"z":165,"d":-0.171},{"r":-0.14,"z":173.25,"d":-0.249},{"r":-0.14,"z":181.5,"d":-0.34},{"r":-0.14,"z":189.75,"d":-0.436},{"r":-0.14,"z":198,"d":-0.54},
{"r":-0.07,"z":0,"d":0},{"r":-0.07,"z":8.25,"d":0},{"r":-0.07,"z":16.5,"d":0},{"r":-0.07,"z":24.75,"d":0},{"r":-0.07,"z":33,"d":0},{"r":-0.07,"z":41.25,"d":0},{"r":-0.07,"z":49.5,"d":0},{"r":-0.07,"z":57.75,"d":0},{"r":-0.07,"z":66,"d":0},{"r":-0.07,"z":74.25,"d":0},{"r":-0.07,"z":82.5,"d":0},{"r":-0.07,"z":90.75,"d":0},{"r":-0.07,"z":99,"d":0},{"r":-0.07,"z":107.25,"d":0},{"r":-0.07,"z":115.5,"d":-0.001},{"r":-0.07,"z":123.75,"d":-0.001},{"r":-0.07,"z":132,"d":-0.003},{"r":-0.07,"z":140.25,"d":-0.008},{"r":-0.07,"z":148.5,"d":-0.021},{"r":-0.07,"z":156.75,"d":-0.04},{"r":-0.07,"z":165,"d":-0.063},{"r":-0.07,"z":173.25,"d":-0.092},{"r":-0.07,"z":181.5,"d":-0.126},{"r":-0.07,"z":189.75,"d":-0.162},{"r":-0.07,"z":198,"d":-0.2},
{"r":0,"z":0,"d":0},{"r":0,"z":8.25,"d":0},{"r":0,"z":16.5,"d":0},{"r":0,"z":24.75,"d":0},{"r":0,"z":33,"d":0},{"r":0,"z":41.25,"d":0},{"r":0,"z":49.5,"d":0},{"r":0,"z":57.75,"d":0},{"r":0,"z":66,"d":0},{"r":0,"z":74.25,"d":0},{"r":0,"z":82.5,"d":0},{"r":0,"z":90.75,"d":0},{"r":0,"z":99,"d":0},{"r":0,"z":107.25,"d":0},{"r":0,"z":115.5,"d":0},{"r":0,"z":123.75,"d":0},{"r":0,"z":132,"d":0.001},{"r":0,"z":140.25,"d":0.002},{"r":0,"z":148.5,"d":0.006},{"r":0,"z":156.75,"d":0.012},{"r":0,"z":165,"d":0.019},{"r":0,"z":173.25,"d":0.028},{"r":0,"z":181.5,"d":0.038},{"r":0,"z":189.75,"d":0.048},{"r":0,"z":198,"d":0.06},
{"r":0.07,"z":0,"d":0},{"r":0.07,"z":8.25,"d":0},{"r":0.07,"z":16.5,"d":0},{"r":0.07,"z":24.75,"d":0},{"r":0.07,"z":33,"d":0},{"r":0.07,"z":41.25,"d":0},{"r":0.07,"z":49.5,"d":0},{"r":0.07,"z":57.75,"d":0},{"r":0.07,"z":66,"d":0},{"r":0.07,"z":74.25,"d":0},{"r":0.07,"z":82.5,"d":0},{"r":0.07,"z":90.75,"d":0},{"r":0.07,"z":99,"d":0},{"r":0.07,"z":107.25,"d":0.001},{"r":0.07,"z":115.5,"d":0.001},{"r":0.07,"z":123.75,"d":0.002},{"r":0.07,"z":132,"d":0.005},{"r":0.07,"z":140.25,"d":0.012},{"r":0.07,"z":148.5,"d":0.033},{"r":0.07,"z":156.75,"d":0.063},{"r":0.07,"z":165,"d":0.101},{"r":0.07,"z":173.25,"d":0.148},{"r":0.07,"z":181.5,"d":0.201},{"r":0.07,"z":189.75,"d":0.259},{"r":0.07,"z":198,"d":0.32},
{"r":0.14,"z":0,"d":0},{"r":0.14,"z":8.25,"d":0},{"r":0.14,"z":16.5,"d":0},{"r":0.14,"z":24.75,"d":0},{"r":0.14,"z":33,"d":0},{"r":0.14,"z":41.25,"d":0},{"r":0.14,"z":49.5,"d":0},{"r":0.14,"z":57.75,"d":0},{"r":0.14,"z":66,"d":0},{"r":0.14,"z":74.25,"d":0},{"r":0.14,"z":82.5,"d":0},{"r":0.14,"z":90.75,"d":0},{"r":0.14,"z":99,"d":0.001},{"r":0.14,"z":107.25,"d":0.001},{"r":0.14,"z":115.5,"d":0.003},{"r":0.14,"z":123.75,"d":0.005},{"r":0.14,"z":132,"d":0.01},{"r":0.14,"z":140.25,"d":0.025},{"r":0.14,"z":148.5,"d":0.068},{"r":0.14,"z":156.75,"d":0.129},{"r":0.14,"z":165,"d":0.205},{"r":0.14,"z":173.25,"d":0.3},{"r":0.14,"z":181.5,"d":0.409},{"r":0.14,"z":189.75,"d":0.525},{"r":0.14,"z":198,"d":0.65},
{"r":0.21,"z":0,"d":0},{"r":0.21,"z":8.25,"d":0},{"r":0.21,"z":16.5,"d":0},{"r":0.21,"z":24.75,"d":0},{"r":0.21,"z":33,"d":0},{"r":0.21,"z":41.25,"d":0},{"r":0.21,"z":49.5,"d":0},{"r":0.21,"z":57.75,"d":0},{"r":0.21,"z":66,"d":0},{"r":0.21,"z":74.25,"d":0},{"r":0.21,"z":82.5,"d":0},{"r":0.21,"z":90.75,"d":0},{"r":0.21,"z":99,"d":0.001},{"r":0.21,"z":107.25,"d":0.002},{"r":0.21,"z":115.5,"d":0.004},{"r":0.21,"z":123.75,"d":0.007},{"r":0.21,"z":132,"d":0.014},{"r":0.21,"z":140.25,"d":0.036},{"r":0.21,"z":148.5,"d":0.1},{"r":0.21,"z":156.75,"d":0.19},{"r":0.21,"z":165,"d":0.303},{"r":0.21,"z":173.25,"d":0.444},{"r":0.21,"z":181.5,"d":0.604},{"r":0.21,"z":189.75,"d":0.776},{"r":0.21,"z":198,"d":0.96},
{"r":0.29,"z":0,"d":0},{"r":0.29,"z":8.25,"d":0},{"r":0.29,"z":16.5,"d":0},{"r":0.29,"z":24.75,"d":0},{"r":0.29,"z":33,"d":0},{"r":0.29,"z":41.25,"d":0},{"r":0.29,"z":49.5,"d":0},{"r":0.29,"z":57.75,"d":0},{"r":0.29,"z":66,"d":0},{"r":0.29,"z":74.25,"d":0},{"r":0.29,"z":82.5,"d":0},{"r":0.29,"z":90.75,"d":0},{"r":0.29,"z":99,"d":0.001},{"r":0.29,"z":107.25,"d":0.003},{"r":0.29,"z":115.5,"d":0.005},{"r":0.29,"z":123.75,"d":0.009},{"r":0.29,"z":132,"d":0.019},{"r":0.29,"z":140.25,"d":0.048},{"r":0.29,"z":148.5,"d":0.131},{"r":0.29,"z":156.75,"d":0.249},{"r":0.29,"z":165,"d":0.398},{"r":0.29,"z":173.25,"d":0.582},{"r":0.29,"z":181.5,"d":0.793},{"r":0.29,"z":189.75,"d":1.018},{"r":0.29,"z":198,"d":1.26},
{"r":0.36,"z":0,"d":0},{"r":0.36,"z":8.25,"d":0},{"r":0.36,"z":16.5,"d":0},{"r":0.36,"z":24.75,"d":0},{"r":0.36,"z":33,"d":0},{"r":0.36,"z":41.25,"d":0},{"r":0.36,"z":49.5,"d":0},{"r":0.36,"z":57.75,"d":0},{"r":0.36,"z":66,"d":0},{"r":0.36,"z":74.25,"d":0},{"r":0.36,"z":82.5,"d":0},{"r":0.36,"z":90.75,"d":0},{"r":0.36,"z":99,"d":0.002},{"r":0.36,"z":107.25,"d":0.003},{"r":0.36,"z":115.5,"d":0.006},{"r":0.36,"z":123.75,"d":0.011},{"r":0.36,"z":132,"d":0.023},{"r":0.36,"z":140.25,"d":0.059},{"r":0.36,"z":148.5,"d":0.162},{"r":0.36,"z":156.75,"d":0.309},{"r":0.36,"z":165,"d":0.493},{"r":0.36,"z":173.25,"d":0.721},{"r":0.36,"z":181.5,"d":0.981},{"r":0.36,"z":189.75,"d":1.26},{"r":0.36,"z":198,"d":1.56},
{"r":0.43,"z":0,"d":0},{"r":0.43,"z":8.25,"d":0},{"r":0.43,"z":16.5,"d":0},{"r":0.43,"z":24.75,"d":0},{"r":0.43,"z":33,"d":0},{"r":0.43,"z":41.25,"d":0},{"r":0.43,"z":49.5,"d":0},{"r":0.43,"z":57.75,"d":0},{"r":0.43,"z":66,"d":0},{"r":0.43,"z":74.25,"d":0},{"r":0.43,"z":82.5,"d":0},{"r":0.43,"z":90.75,"d":0},{"r":0.43,"z":99,"d":0.002},{"r":0.43,"z":107.25,"d":0.004},{"r":0.43,"z":115.5,"d":0.007},{"r":0.43,"z":123.75,"d":0.013},{"r":0.43,"z":132,"d":0.028},{"r":0.43,"z":140.25,"d":0.071},{"r":0.43,"z":148.5,"d":0.194},{"r":0.43,"z":156.75,"d":0.37},{"r":0.43,"z":165,"d":0.591},{"r":0.43,"z":173.25,"d":0.864},{"r":0.43,"z":181.5,"d":1.176},{"r":0.43,"z":189.75,"d":1.511},{"r":0.43,"z":198,"d":1.87},
{"r":0.5,"z":0,"d":0},{"r":0.5,"z":8.25,"d":0},{"r":0.5,"z":16.5,"d":0},{"r":0.5,"z":24.75,"d":0},{"r":0.5,"z":33,"d":0},{"r":0.5,"z":41.25,"d":0},{"r":0.5,"z":49.5,"d":0},{"r":0.5,"z":57.75,"d":0},{"r":0.5,"z":66,"d":0},{"r":0.5,"z":74.25,"d":0},{"r":0.5,"z":82.5,"d":0},{"r":0.5,"z":90.75,"d":0},{"r":0.5,"z":99,"d":0.002},{"r":0.5,"z":107.25,"d":0.004},{"r":0.5,"z":115.5,"d":0.009},{"r":0.5,"z":123.75,"d":0.016},{"r":0.5,"z":132,"d":0.033},{"r":0.5,"z":140.25,"d":0.084},{"r":0.5,"z":148.5,"d":0.231},{"r":0.5,"z":156.75,"d":0.44},{"r":0.5,"z":165,"d":0.702},{"r":0.5,"z":173.25,"d":1.026},{"r":0.5,"z":181.5,"d":1.396},{"r":0.5,"z":189.75,"d":1.794},{"r":0.5,"z":198,"d":2.22}
],
"lab": [{"p":1,"label":"𝑎 = 2"},{"p":2,"label":"𝑎 = 10"},{"p":3,"label":"𝑎 = 14"}]
},
"hconcat": [
{
"width": 291, "height": 307,
"title": "Defect displacement at 𝑧 = 𝐿",
"layer": [
{"data": {"name": "p1"},
 "mark": {"type": "line", "strokeWidth": 1.5},
 "encoding": {
  "x": {"field": "z", "type": "quantitative", "scale": {"domain": [-9.9, 207.9], "nice": false, "zero": false}, "axis": {"values": [0, 50, 100, 150, 200], "tickCount": 20, "format": "d", "title": "Propagation time 𝑧/𝑧_NL"}},
  "y": {"field": "d", "type": "quantitative", "scale": {"domain": [-8.32, 8.43], "nice": false, "zero": false}, "axis": {"values": [-8, -6, -4, -2, 0, 2, 4, 6, 8], "tickCount": 20, "format": "d", "title": "𝛿𝑟 in 𝜇𝑚"}},
  "stroke": {"field": "r", "type": "quantitative", "legend": null,
   "scale": {"domain": [-0.5001, -0.4, -0.3, -0.2, -0.1, 0, 0.1, 0.2, 0.3, 0.4, 0.5001], "range": ["#000000", "#1a0f10", "#37191b", "#572628", "#78312f", "#983e2c", "#b35424", "#c9701c", "#dc9424", "#ebbb35", "#f9ed52"]}},
  "detail": {"field": "r"}
 }},
{"data": {"name": "p1"},
 "mark": {"type": "point", "shape": "square", "size": 30, "filled": true, "opacity": 1},
 "encoding": {
  "x": {"field": "z", "type": "quantitative"},
  "y": {"field": "d", "type": "quantitative"},
  "fill": {"field": "r", "type": "quantitative",
   "scale": {"domain": [-0.5, -0.4, -0.3, -0.2, -0.1, 0, 0.1, 0.2, 0.3, 0.4, 0.5], "range": ["#000000", "#1a0f10", "#37191b", "#572628", "#78312f", "#983e2c", "#b35424", "#c9701c", "#dc9424", "#ebbb35", "#f9ed52"]},
   "legend": {"type": "gradient", "direction": "vertical", "title": "Initial defect position in mm", "titleOrient": "right", "titleAnchor": "middle", "titleAlign": "center", "titleBaseline": "bottom", "titlePadding": 8, "gradientLength": 307, "gradientThickness": 16, "values": [-0.4, -0.2, 0, 0.2, 0.4], "format": ".1f", "offset": 15, "padding": 0}}
 }},
{"data": {"name": "lab"}, "transform": [{"filter": "datum.p == 1"}],
 "mark": {"type": "rect", "cornerRadius": 7, "fill": "white", "stroke": "#b5b5b5", "strokeWidth": 1.5},
 "encoding": {"x": {"datum": -3.7, "type": "quantitative"}, "x2": {"datum": 60.1}, "y": {"datum": 7.99, "type": "quantitative"}, "y2": {"datum": 5.59}}},
{"data": {"name": "lab"}, "transform": [{"filter": "datum.p == 1"}],
 "mark": {"type": "text", "fontSize": 31, "align": "center", "baseline": "middle", "color": "#111", "font": "Liberation Serif, DejaVu Serif"},
 "encoding": {"x": {"datum": 28.2, "type": "quantitative"}, "y": {"datum": 6.8, "type": "quantitative"}, "text": {"field": "label"}}}
]
},
{
"width": 294, "height": 307,
"title": "Defect displacement at 𝑧 = 𝐿",
"layer": [
{"data": {"name": "p2"},
 "mark": {"type": "line", "strokeWidth": 1.5},
 "encoding": {
  "x": {"field": "z", "type": "quantitative", "scale": {"domain": [-9.9, 207.9], "nice": false, "zero": false}, "axis": {"values": [0, 50, 100, 150, 200], "tickCount": 20, "format": "d", "title": "Propagation time 𝑧/𝑧_NL"}},
  "y": {"field": "d", "type": "quantitative", "scale": {"domain": [-2.8775, 3.0075], "nice": false, "zero": false}, "axis": {"values": [-2, -1, 0, 1, 2, 3], "tickCount": 20, "format": "d", "title": null}},
  "stroke": {"field": "r", "type": "quantitative", "legend": null,
   "scale": {"domain": [-0.5001, -0.4, -0.3, -0.2, -0.1, 0, 0.1, 0.2, 0.3, 0.4, 0.5001], "range": ["#000000", "#1a0f10", "#37191b", "#572628", "#78312f", "#983e2c", "#b35424", "#c9701c", "#dc9424", "#ebbb35", "#f9ed52"]}},
  "detail": {"field": "r"}
 }},
{"data": {"name": "p2"},
 "mark": {"type": "point", "shape": "square", "size": 30, "filled": true, "opacity": 1},
 "encoding": {
  "x": {"field": "z", "type": "quantitative"},
  "y": {"field": "d", "type": "quantitative"},
  "fill": {"field": "r", "type": "quantitative",
   "scale": {"domain": [-0.5, -0.4, -0.3, -0.2, -0.1, 0, 0.1, 0.2, 0.3, 0.4, 0.5], "range": ["#000000", "#1a0f10", "#37191b", "#572628", "#78312f", "#983e2c", "#b35424", "#c9701c", "#dc9424", "#ebbb35", "#f9ed52"]},
   "legend": {"type": "gradient", "direction": "vertical", "title": "Initial defect position in mm", "titleOrient": "right", "titleAnchor": "middle", "titleAlign": "center", "titleBaseline": "bottom", "titlePadding": 8, "gradientLength": 307, "gradientThickness": 16, "values": [-0.4, -0.2, 0, 0.2, 0.4], "format": ".1f", "offset": 15, "padding": 0}}
 }},
{"data": {"name": "lab"}, "transform": [{"filter": "datum.p == 2"}],
 "mark": {"type": "rect", "cornerRadius": 7, "fill": "white", "stroke": "#b5b5b5", "strokeWidth": 1.5},
 "encoding": {"x": {"datum": -3.9, "type": "quantitative"}, "x2": {"datum": 72.6}, "y": {"datum": 2.85, "type": "quantitative"}, "y2": {"datum": 2.0}}},
{"data": {"name": "lab"}, "transform": [{"filter": "datum.p == 2"}],
 "mark": {"type": "text", "fontSize": 31, "align": "center", "baseline": "middle", "color": "#111", "font": "Liberation Serif, DejaVu Serif"},
 "encoding": {"x": {"datum": 34.3, "type": "quantitative"}, "y": {"datum": 2.42, "type": "quantitative"}, "text": {"field": "label"}}}
]
},
{
"width": 292, "height": 307,
"title": "Defect displacement at 𝑧 = 𝐿",
"layer": [
{"data": {"name": "p3"},
 "mark": {"type": "line", "strokeWidth": 1.5},
 "encoding": {
  "x": {"field": "z", "type": "quantitative", "scale": {"domain": [-9.9, 207.9], "nice": false, "zero": false}, "axis": {"values": [0, 50, 100, 150, 200], "tickCount": 20, "format": "d", "title": "Propagation time 𝑧/𝑧_NL"}},
  "y": {"field": "d", "type": "quantitative", "scale": {"domain": [-2.3055, 2.4355], "nice": false, "zero": false}, "axis": {"values": [-2, -1, 0, 1, 2], "tickCount": 20, "format": "d", "title": null}},
  "stroke": {"field": "r", "type": "quantitative", "legend": null,
   "scale": {"domain": [-0.5001, -0.4, -0.3, -0.2, -0.1, 0, 0.1, 0.2, 0.3, 0.4, 0.5001], "range": ["#000000", "#1a0f10", "#37191b", "#572628", "#78312f", "#983e2c", "#b35424", "#c9701c", "#dc9424", "#ebbb35", "#f9ed52"]}},
  "detail": {"field": "r"}
 }},
{"data": {"name": "p3"},
 "mark": {"type": "point", "shape": "square", "size": 30, "filled": true, "opacity": 1},
 "encoding": {
  "x": {"field": "z", "type": "quantitative"},
  "y": {"field": "d", "type": "quantitative"},
  "fill": {"field": "r", "type": "quantitative",
   "scale": {"domain": [-0.5, -0.4, -0.3, -0.2, -0.1, 0, 0.1, 0.2, 0.3, 0.4, 0.5], "range": ["#000000", "#1a0f10", "#37191b", "#572628", "#78312f", "#983e2c", "#b35424", "#c9701c", "#dc9424", "#ebbb35", "#f9ed52"]},
   "legend": {"type": "gradient", "direction": "vertical", "title": "Initial defect position in mm", "titleOrient": "right", "titleAnchor": "middle", "titleAlign": "center", "titleBaseline": "bottom", "titlePadding": 8, "gradientLength": 307, "gradientThickness": 16, "values": [-0.4, -0.2, 0, 0.2, 0.4], "format": ".1f", "offset": 15, "padding": 0}}
 }},
{"data": {"name": "lab"}, "transform": [{"filter": "datum.p == 3"}],
 "mark": {"type": "rect", "cornerRadius": 7, "fill": "white", "stroke": "#b5b5b5", "strokeWidth": 1.5},
 "encoding": {"x": {"datum": -1.2, "type": "quantitative"}, "x2": {"datum": 73}, "y": {"datum": 2.3, "type": "quantitative"}, "y2": {"datum": 1.62}}},
{"data": {"name": "lab"}, "transform": [{"filter": "datum.p == 3"}],
 "mark": {"type": "text", "fontSize": 31, "align": "center", "baseline": "middle", "color": "#111", "font": "Liberation Serif, DejaVu Serif"},
 "encoding": {"x": {"datum": 35.9, "type": "quantitative"}, "y": {"datum": 1.96, "type": "quantitative"}, "text": {"field": "label"}}}
]
}
],
"spacing": 44,
"bounds": "flush",
"resolve": {"scale": {"fill": "shared", "stroke": "shared"}, "legend": {"fill": "shared", "stroke": "shared"}},
"config": {
 "font": "Liberation Serif, DejaVu Serif",
 "view": {"stroke": "#222", "strokeWidth": 1},
 "axis": {"domain": false, "grid": false, "labelOverlap": false, "tickColor": "#222", "tickSize": 3.5, "tickWidth": 0.8, "labelFont": "Liberation Serif", "labelFontSize": 10.5, "labelColor": "#222", "labelPadding": 3, "titleFont": "Liberation Serif, DejaVu Serif", "titleFontSize": 18, "titleFontWeight": "normal", "titleColor": "#111"},
 "axisX": {"titlePadding": 3},
 "axisY": {"titlePadding": 15},
 "title": {"font": "Liberation Serif, DejaVu Serif", "fontSize": 24, "fontWeight": "normal", "color": "#111", "offset": 8},
 "legend": {"labelFont": "Liberation Serif", "labelFontSize": 10.5, "labelColor": "#222", "labelOffset": 7, "titleFont": "Liberation Serif", "titleFontSize": 11.5, "titleFontWeight": "normal", "titleColor": "#444", "gradientStrokeColor": "#222", "gradientStrokeWidth": 0.8}
}
}
